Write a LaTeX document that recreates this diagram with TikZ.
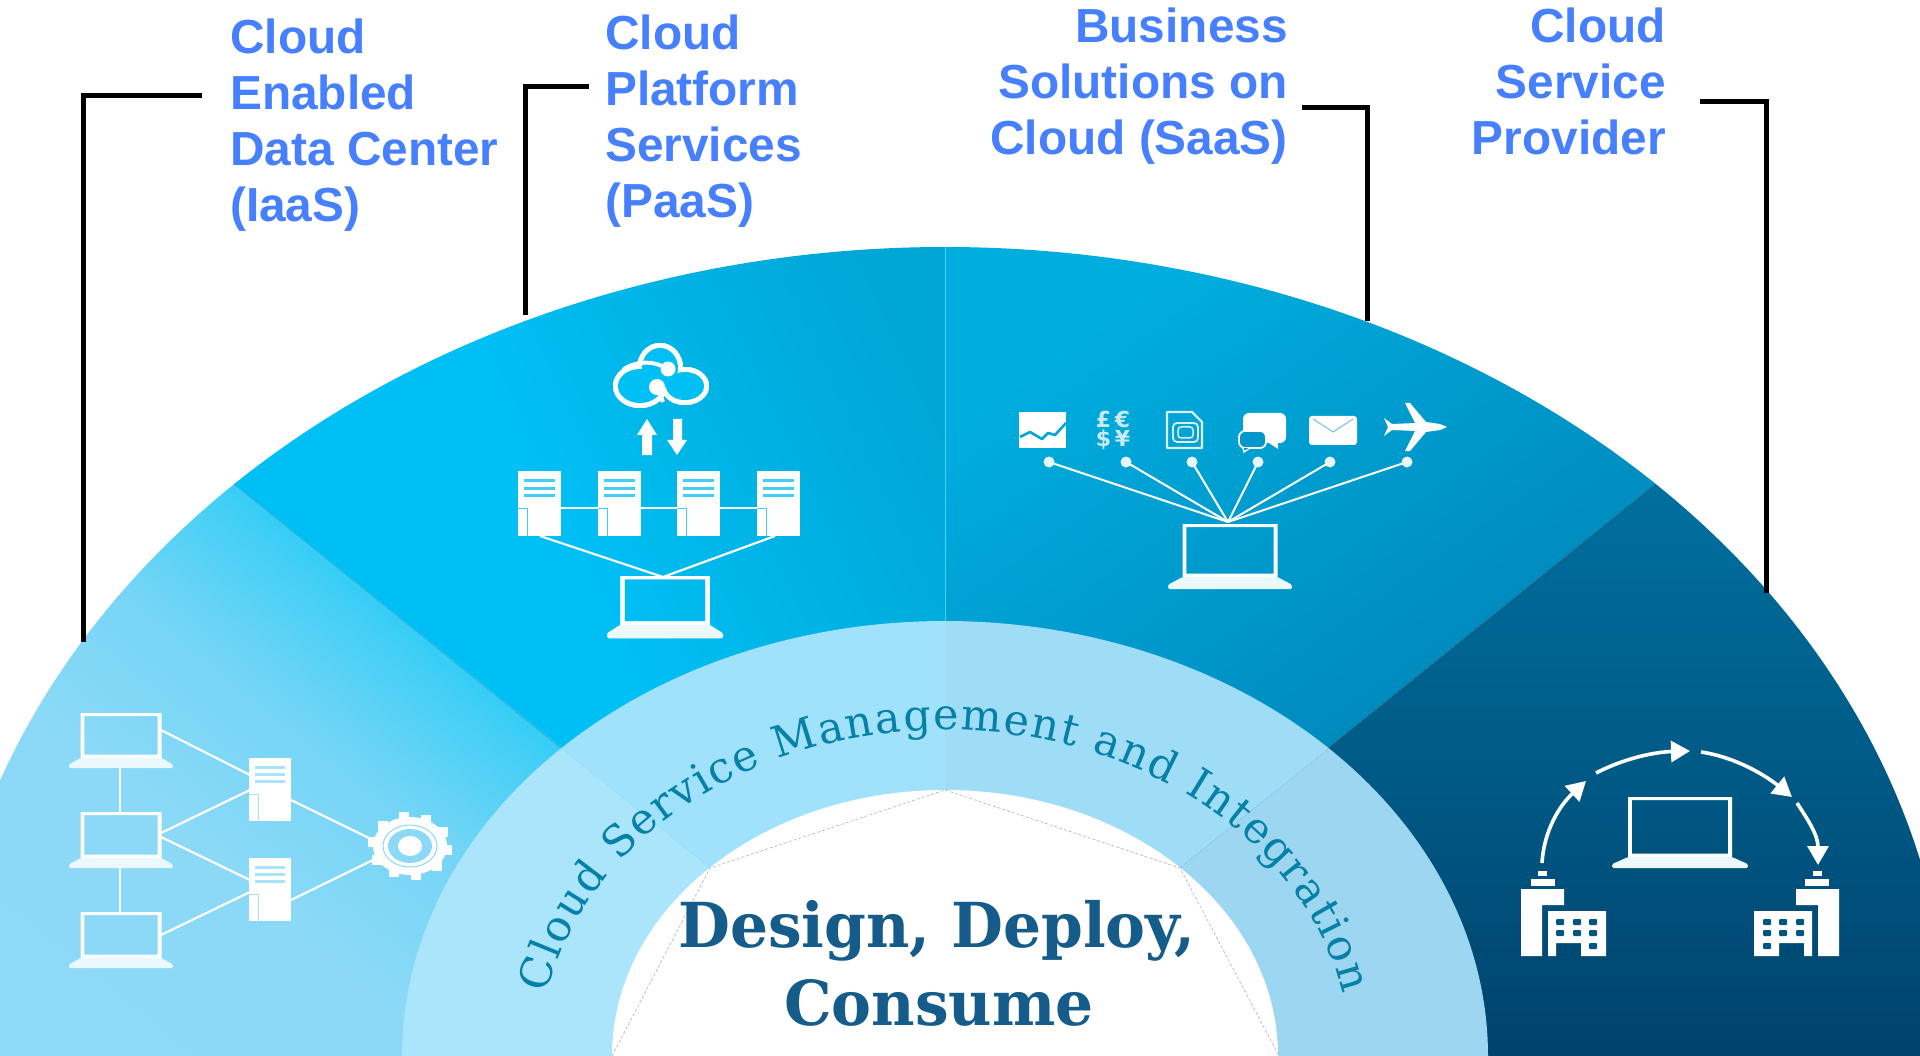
\documentclass[tikz,border=0pt]{standalone}
\usepackage{fontspec}
\setmainfont{Liberation Sans}
\newfontfamily\slabfont{DejaVu Serif}
\newfontfamily\symfont{DejaVu Sans}
\usetikzlibrary{arrows.meta,decorations.text}
\definecolor{labelblue}{HTML}{4680FF}
\definecolor{iaasbg}{HTML}{8CD9F7}
\definecolor{iaasa}{HTML}{90DAF8}
\definecolor{iaasb}{HTML}{8BD9F7}
\definecolor{iaasc}{HTML}{76D5F6}
\definecolor{iaasd}{HTML}{45CFF6}
\definecolor{iaase}{HTML}{0CC8F5}
\definecolor{paasbg}{HTML}{00BFF4}
\definecolor{paasend}{HTML}{00A6D6}
\definecolor{saasbg}{HTML}{0098CC}
\definecolor{saastop}{HTML}{00ADDF}
\definecolor{saasend}{HTML}{0076AA}
\definecolor{provbg}{HTML}{005583}
\definecolor{provtop}{HTML}{00709F}
\definecolor{provend}{HTML}{00436D}
\definecolor{ringa}{HTML}{ABE5FC}
\definecolor{ringb}{HTML}{A0E2FB}
\definecolor{ringc}{HTML}{9FDDF6}
\definecolor{ringd}{HTML}{9CD6F0}
\definecolor{ringtext}{HTML}{0580A6}
\definecolor{coretext}{HTML}{155C8B}
\pgfdeclareverticalshading{iaasgrad}{100bp}{color(0bp)=(iaasa);color(36bp)=(iaasb);color(46bp)=(iaasc);color(54bp)=(iaasd);color(61bp)=(iaase);color(100bp)=(iaase)}
\pgfdeclareverticalshading{paasgrad}{100bp}{color(0bp)=(paasbg);color(52bp)=(paasbg);color(78bp)=(paasend);color(100bp)=(paasend)}
\tikzset{
  lead/.style={line width=5pt,black},
  lbl/.style={font=\fontsize{47.8}{56}\selectfont\bfseries,text=labelblue,inner sep=0pt},
  lnk/.style={white,line width=2.2pt},
  curvearrow/.style={white,line width=3.6pt,-{Triangle[length=19pt,width=21pt]}},
  divider/.style={line width=.7pt},
  coretxt/.style={font=\fontsize{62}{62}\selectfont\slabfont\bfseries,text=coretext,inner sep=0pt,xscale=.965,transform shape}
}
\newcommand{\sect}[4]{(945,1056) -- ({945+#3*cos(#1)},{1056-#4*sin(#1)}) arc[start angle=#1,end angle=#2,x radius=#3pt,y radius=#4pt] -- cycle}
\newcommand{\lapt}[6]{%
  \fill[white,even odd rule] ({#1-#3/2},#2) rectangle ({#1+#3/2},{#2+#4})
     ({#1-#3/2+3.8},{#2+3}) rectangle ({#1+#3/2-3.8},{#2+#4-3.5});
  \fill[white!92!cyan,rounded corners=1.5pt] ({#1-#3/2},{#2+#4}) -- ({#1+#3/2},{#2+#4}) -- ({#1+#5/2},{#2+#4+#6*.65}) -- ({#1+#5/2},{#2+#4+#6}) -- ({#1-#5/2},{#2+#4+#6}) -- ({#1-#5/2},{#2+#4+#6*.65}) -- cycle;}
\newcommand{\servr}[5]{%
  \fill[white] (#1,#2) rectangle ({#1+#3},{#2+#4});
  \foreach \f in {.13,.24,.35} \fill[#5!75!white] ({#1+.14*#3},{#2+\f*#4}) rectangle ({#1+.86*#3},{#2+(\f+.045)*#4});
  \draw[#5!75!white,line width=1.2pt] (#1,{#2+.58*#4}) -- ({#1+.22*#3},{#2+.58*#4}) -- ({#1+.22*#3},{#2+#4});}
\newcommand{\bldg}{%
  \fill[white] (1521,889) -- (1564,889) -- (1564,905) -- (1542,905) -- (1542,956) -- (1521,956) -- cycle;
  \fill[white] (1531,879) rectangle (1555,886);
  \fill[white] (1538,871) rectangle (1547,876);
  \fill[white] (1548,911) -- (1606,911) -- (1606,956) -- (1581,956) -- (1581,943) -- (1556,943) -- (1556,956) -- (1548,956) -- cycle;
  \foreach \wx/\wy in {1560/922,1577/922,1593/922,1560/933,1577/933,1593/933,1593/946}
    \fill[provbg,rounded corners=1pt] ({\wx-4},{\wy-3}) rectangle ({\wx+4},{\wy+3});}
\begin{document}
\begin{tikzpicture}[x=1pt,y=-1pt]
\useasboundingbox (0,0) rectangle (1920,1056);
\clip (0,0) rectangle (1920,1056);
\fill[white] (0,0) rectangle (1920,1056);

% ---------- fan
\shade[shading=iaasgrad,shading angle=-39] \sect{180}{135}{1005}{809};
\shade[shading=paasgrad,shading angle=-65] \sect{135}{90}{1005}{809};
\shade[bottom color=saasend,top color=saastop,shading angle=35] \sect{90}{45}{1005}{809};
\shade[bottom color=provend,top color=provtop,shading angle=0] \sect{45}{0}{1005}{809};
% ---------- ring
\fill[ringa] \sect{180}{135}{543}{435};
\fill[ringb] \sect{135}{90}{543}{435};
\fill[ringc] \sect{90}{45}{543}{435};
\fill[ringd] \sect{45}{0}{543}{435};
% ---------- dividers
\coordinate (dl) at (234,484);
\coordinate (dlr) at (561,748);
\coordinate (dr) at (1656,484);
\coordinate (drr) at (1329,748);
\coordinate (dt) at (945,247);
\coordinate (dtr) at (945,621);
\draw[divider,draw=paasbg!70!gray] (dl) -- (dlr);
\draw[divider,draw=provbg!70!gray] (dr) -- (drr);
\draw[divider,draw=paasbg!70!white] (dt) -- (dtr);
% ---------- core
\fill[white] (945,1056) ellipse[x radius=333pt,y radius=266pt];
\coordinate (pa) at (612,1056);
\coordinate (pb) at (710,868);
\coordinate (pc) at (945,790);
\coordinate (pd) at (1180,868);
\coordinate (pe) at (1279,1056);
\draw[gray!70,line width=.5pt,densely dashed] (pa) -- (pb) -- (pc) -- (pd) -- (pe);

% ---------- ring and core text
\path[decorate,decoration={text along path,text align={fit to path},
   text={|\fontsize{43}{43}\selectfont\slabfont\color{ringtext}|Cloud Service Management and Integration}}]
   ({945+405*cos(169)},{1056-326*sin(169)}) arc[start angle=169,end angle=11,x radius=405pt,y radius=326pt];
\node[coretxt] (core1) at (937,931) {Design, Deploy,};
\node[coretxt] (core2) at (939,1003) {Consume};

% ---------- labels
\node[lbl,anchor=north west,align=left] (lab1) at (230,19) {Cloud\\Enabled\\Data Center\\(IaaS)};
\node[lbl,anchor=north west,align=left] (lab2) at (605,15) {Cloud\\Platform\\Services\\(PaaS)};
\node[lbl,anchor=north east,align=right] (lab3) at (1288,8) {Business\\Solutions on\\Cloud (SaaS)};
\node[lbl,anchor=north east,align=right] (lab4) at (1666,8) {Cloud\\Service\\Provider};
% ---------- leaders
\coordinate (la1) at (202,96); \coordinate (lb1) at (83,642);
\coordinate (la2) at (589,87); \coordinate (lb2) at (525,315);
\coordinate (la3) at (1302,108); \coordinate (lb3) at (1367,321);
\coordinate (la4) at (1700,102); \coordinate (lb4) at (1766,593);
\draw[lead] (la1) -| (lb1);
\draw[lead] (la2) -| (lb2);
\draw[lead] (la3) -| (lb3);
\draw[lead] (la4) -| (lb4);

% ---------- IaaS icon
\foreach \n/\p in {i1/{161,730},i2/{250,775},i3/{161,833},i4/{250,790},i5/{161,837},i6/{250,880},i7/{161,935},i8/{250,892},i9/{291,800},i10/{373,840},i11/{291,900},i12/{373,860},i13/{120,768},i14/{120,812},i15/{120,868},i16/{120,912}}
  \coordinate (\n) at (\p);
\foreach \a/\b in {i1/i2,i3/i4,i5/i6,i7/i8,i9/i10,i11/i12,i13/i14,i15/i16}
  \draw[lnk] (\a) -- (\b);
\lapt{121}{713}{81}{45}{104}{10}
\lapt{121}{812}{81}{46}{104}{10}
\lapt{121}{912}{81}{46}{104}{10}
\servr{249}{758}{42}{63}{iaasbg}
\servr{249}{858}{42}{63}{iaasbg}
% gear
\foreach \a in {0,36,...,324}
  \fill[white,shift={({410+37*cos(\a+8)},{846+29*sin(\a+8)})}] (-5,-5) rectangle (5,5);
\fill[white] (410,846) ellipse[x radius=37pt,y radius=29pt];
\draw[iaasbg,line width=1pt] (410,846) ellipse[x radius=27pt,y radius=21pt];
\fill[iaasbg] (410,846) ellipse[x radius=22pt,y radius=17pt];
\fill[white] (410,846) ellipse[x radius=12pt,y radius=10pt];

% ---------- PaaS icon
\foreach \n/\p in {p1/{561,508},p2/{598,508},p3/{640,508},p4/{677,508},p5/{719,508},p6/{757,508},p7/{540,536},p8/{663,577},p9/{775,536}}
  \coordinate (\n) at (\p);
\foreach \a/\b in {p1/p2,p3/p4,p5/p6,p7/p8,p9/p8}
  \draw[lnk] (\a) -- (\b);
\foreach \sx in {518,598,677,757}
  \servr{\sx}{471}{43}{65}{paasbg}
\lapt{665}{576}{89}{49}{116}{13}
% cloud
\fill[white] (640,386) ellipse[x radius=27pt,y radius=22pt] (685,386) ellipse[x radius=24pt,y radius=19pt] (660,368) ellipse[x radius=23pt,y radius=25pt];
\fill[paasbg] (640,386) ellipse[x radius=22pt,y radius=17pt] (685,386) ellipse[x radius=19pt,y radius=14pt] (660,368) ellipse[x radius=18pt,y radius=20pt];
\draw[white,line width=4pt,line cap=round] (624,369) .. controls (638,360) and (655,361) .. (668,369);
\fill[white] (668,369) circle[radius=7.5pt] (657,387) circle[radius=8pt];
\draw[white,line width=4pt] (657,387) -- (663,402);
% arrows
\fill[white] (642,455) -- (652,455) -- (652,435) -- (657,435) -- (647,419) -- (637,435) -- (642,435) -- cycle;
\fill[white] (673,419) -- (682,419) -- (682,440) -- (687,440) -- (677,455) -- (667,440) -- (673,440) -- cycle;

% ---------- SaaS icon
\foreach \n/\x in {s1/1049,s2/1126,s3/1192,s4/1258,s5/1330,s6/1407}
  \coordinate (\n) at (\x,462);
\coordinate (sapex) at (1228,522);
\foreach \a in {s1,s2,s3,s4,s5,s6} {
  \draw[white,line width=2pt] (\a) -- (sapex);
  \fill[white!90!cyan] (\a) circle[radius=5.5pt];
}
\lapt{1230}{524}{95}{53}{124}{12}
% chart
\fill[white] (1019,412) rectangle (1066,448);
\draw[saastop!85!saasend,line width=2.6pt,line join=round] (1020,437) -- (1030,432) -- (1042,439) -- (1048,433) -- (1055,435) -- (1066,423);
% currency
\node[font=\fontsize{22}{19}\selectfont\symfont\bfseries,text=white!80!saasbg,inner sep=0pt,align=center] (money) at (1113,430) {£\,€\\\$\,¥};
% document
\draw[white!85!saasbg,line width=2.2pt,line join=round] (1167,412) -- (1192,412) -- (1202,422) -- (1202,448) -- (1167,448) -- cycle;
\draw[white!85!saasbg,line width=1.8pt,rounded corners=4pt] (1173,423) rectangle (1198,442);
\draw[white!85!saasbg,line width=1.5pt,rounded corners=3pt] (1178,427) rectangle (1193,438);
% chat
\fill[white,rounded corners=6pt] (1243,413) -- (1286,413) -- (1286,443) -- (1243,443) -- cycle;
\fill[white] (1266,441) -- (1278,449) -- (1278,441) -- cycle;
\fill[saasbg,draw=white,line width=1.8pt,rounded corners=6pt] (1239,431) -- (1266,431) -- (1266,448) -- (1239,448) -- cycle;
\fill[saasbg,draw=white,line width=1.4pt] (1243,448) -- (1244,452) -- (1250,448);
% envelope
\fill[white,rounded corners=3pt] (1309,416) rectangle (1357,445);
\draw[saasbg!50!white,line width=1.2pt] (1313,419) -- (1333,432) -- (1353,419);
% plane
\fill[white,line join=round] (1384,418) -- (1392,424) -- (1415,423) -- (1405,403) -- (1410,403) -- (1426,422) -- (1440,424) -- (1447,427) -- (1440,430) -- (1426,432) -- (1410,451) -- (1405,451) -- (1415,431) -- (1392,430) -- (1384,436) -- (1388,427) -- cycle;

% ---------- provider icon
\lapt{1680}{797}{104}{60}{136}{11}
\coordinate (c1a) at (1542,863); \coordinate (c1b) at (1586,781);
\coordinate (c2a) at (1596,773); \coordinate (c2b) at (1690,751);
\coordinate (c3a) at (1701,752); \coordinate (c3b) at (1792,797);
\coordinate (c4a) at (1797,803); \coordinate (c4b) at (1818,865);
\draw[curvearrow] (c1a) .. controls (1544,830) and (1560,805) .. (c1b);
\draw[curvearrow] (c2a) .. controls (1625,758) and (1655,752) .. (c2b);
\draw[curvearrow] (c3a) .. controls (1735,757) and (1765,775) .. (c3b);
\draw[curvearrow] (c4a) .. controls (1808,820) and (1818,835) .. (c4b);
\bldg
\begin{scope}[xshift=3360pt,xscale=-1]
\bldg
\end{scope}
\end{tikzpicture}
\end{document}
